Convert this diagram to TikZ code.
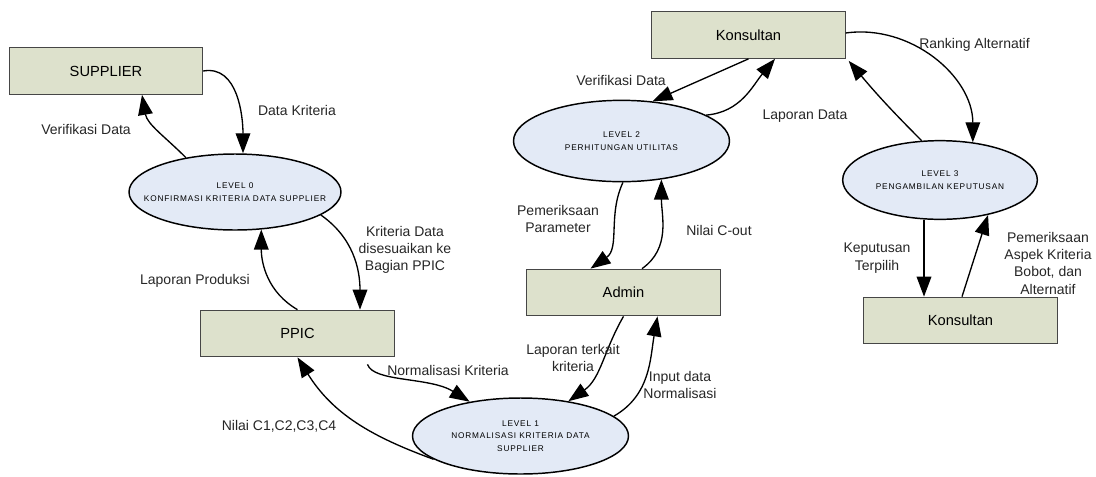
\documentclass[tikz,border=0pt]{standalone}
\usepackage{fontspec}
\setmainfont{Liberation Sans}
\newfontfamily\levelfont[LetterSpace=10]{Liberation Sans}
\usetikzlibrary{
  arrows.meta,
  calc,
  shapes.geometric
}
\definecolor{entityolive}{RGB}{221,225,204}
\definecolor{entityedge}{RGB}{70,70,70}
\definecolor{procblue}{RGB}{227,234,246}

\begin{document}
\begin{tikzpicture}[x=0.75pt, y=0.75pt,
  entity/.style={draw=entityedge, fill=entityolive, line width=0.8pt,
                 minimum width=145pt, minimum height=35pt, inner sep=0pt,
                 font=\fontsize{11}{13}\selectfont},
  process/.style={ellipse, draw, fill=procblue, line width=1.1pt,
                  minimum width=159pt, minimum height=57pt, inner xsep=-15pt,
                  inner ysep=0pt, align=center,
                  font=\levelfont\fontsize{6.2}{9.5}\selectfont},
  arr/.style={-{Triangle[length=15pt,width=11pt]}, line width=1pt},
  lbl/.style={align=center, inner sep=0pt, text=black!85,
              font=\fontsize{10.5}{13}\selectfont}
]
\useasboundingbox (0,0) rectangle (1096,-476);

\node[entity] (sup) at (106,-71) {SUPPLIER};
\node[process] (lvl0) at (235,-192) {LEVEL 0\\KONFIRMASI KRITERIA DATA SUPPLIER};
\node[entity] (ppic) at (297.5,-333.5) {PPIC};
\node[process, minimum width=162pt] (lvl1) at (520.5,-436) {LEVEL 1\\NORMALISASI KRITERIA DATA\\SUPPLIER};
\node[entity] (admin) at (623.5,-292.5) {Admin};
\node[process, minimum width=162pt, minimum height=61pt] (lvl2) at (621.5,-141) {LEVEL 2\\PERHITUNGAN UTILITAS};
\node[entity] (kon1) at (748.5,-35) {Konsultan};
\node[process, minimum width=146pt, minimum height=59pt] (lvl3) at (940,-180) {LEVEL 3\\PENGAMBILAN KEPUTUSAN};
\node[entity] (kon2) at (960.5,-320.5) {Konsultan};

\draw[arr] (sup.east) to[out=10,in=90] ($(lvl0.north)+(8,0)$);
\draw[arr] (lvl0.145) to[out=135,in=-80] ($(sup.south)+(36,0)$);
\draw[arr] (lvl0.-15) to[out=-35,in=90] ($(ppic.north)+(62.5,0)$);
\draw[arr] (ppic.north) to[out=150,in=-90] (lvl0.-55);
\draw[arr] ($(ppic.south)+(70,-7)$) .. controls +(6,-18) and +(-40,25) .. (lvl1.146);
\draw[arr] (lvl1.195) to[out=160,in=-58] (ppic.south);
\draw[arr] (admin.south) to[out=-120,in=35] (lvl1.36);
\draw[arr] (lvl1.12) to[out=30,in=-100] ($(admin.south)+(34,0)$);
\draw[arr] (lvl2.-88) to[out=-115,in=35] ($(admin.north)+(-33,0)$);
\draw[arr] ($(admin.north)+(18.5,0)$) to[out=35,in=-90] (lvl2.-44);
\draw[arr] (kon1.south) -- (lvl2.52);
\draw[arr] (lvl2.17) to[out=5,in=-130] ($(kon1.south)+(26.5,0)$);
\draw[arr] ($(kon1.east)+(0,2)$) to[out=8,in=90] (lvl3.49);
\draw[arr] (lvl3.115) to[out=135,in=-50] ($(kon1.south east)+(3,-2)$);
\draw[arr] ($(lvl3.south)+(-16,0)$) -- ($(kon2.north)+(-36.5,0)$);
\draw[arr] ($(kon2.north)+(1.5,0)$) -- (lvl3.-36);

\node[lbl] (t1) at (297,-110) {Data Kriteria};
\node[lbl] (t2) at (86,-129) {Verifikasi Data};
\node[lbl] (t3) at (405,-250) {Kriteria Data\\disesuaikan ke\\Bagian PPIC};
\node[lbl] (t4) at (195,-281) {Laporan Produksi};
\node[lbl] (t5) at (448,-370) {Normalisasi Kriteria};
\node[lbl] (t6) at (279,-426) {Nilai C1,C2,C3,C4};
\node[lbl] (t7) at (573,-358) {Laporan terkait\\kriteria};
\node[lbl] (t8) at (680,-385) {Input data\\Normalisasi};
\node[lbl] (t9) at (558,-219) {Pemeriksaan\\Parameter};
\node[lbl] (t10) at (719,-230) {Nilai C-out};
\node[lbl] (t11) at (621,-80) {Verifikasi Data};
\node[lbl] (t12) at (805,-116) {Laporan Data};
\node[lbl] (t13) at (974.5,-45) {Ranking Alternatif};
\node[lbl] (t14) at (877,-258) {Keputusan\\Terpilih};
\node[lbl] (t15) at (1048,-263) {Pemeriksaan\\Aspek Kriteria\\Bobot, dan\\Alternatif};

\end{tikzpicture}
\end{document}
